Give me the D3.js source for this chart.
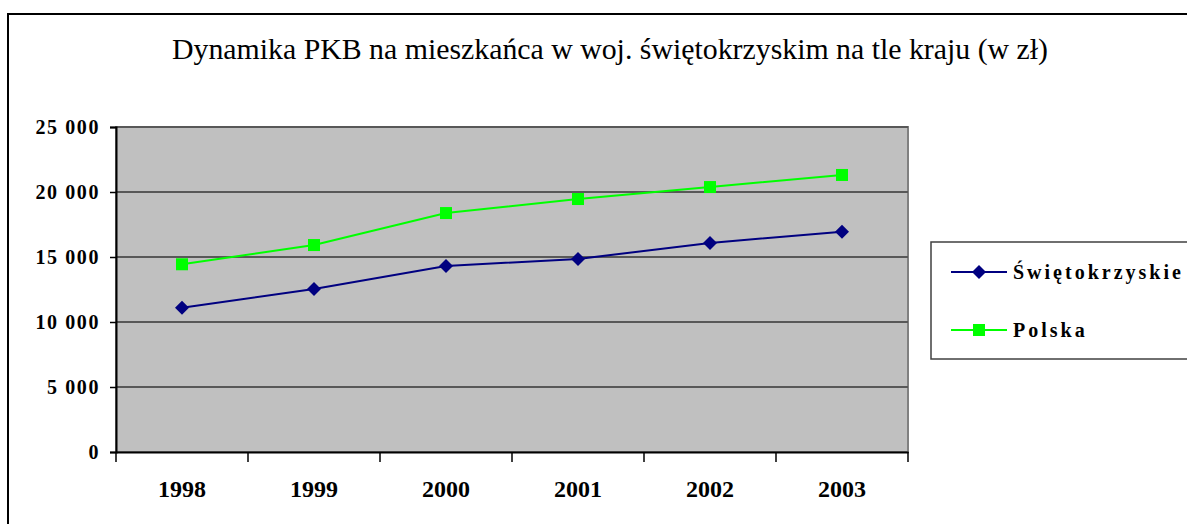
<!DOCTYPE html>
<html>
<head>
<meta charset="utf-8">
<script src="https://cdn.jsdelivr.net/npm/d3@7"></script>
<style>
  html, body { margin: 0; padding: 0; background: #fff; overflow: hidden; }
  svg { display: block; }
  text { font-family: "Liberation Serif", "Times New Roman", Times, serif; }
</style>
</head>
<body>
<div id="chart"></div>
<script>
const years = ['1998', '1999', '2000', '2001', '2002', '2003'];
const swietokrzyskie = [11100, 12540, 14310, 14850, 16080, 16950];
const polska = [14440, 15920, 18380, 19460, 20380, 21310];
const yTicks = [0, 5000, 10000, 15000, 20000, 25000];
const title = 'Dynamika PKB na mieszkańca w woj. świętokrzyskim na tle kraju (w zł)';

const series = [
  { name: 'Świętokrzyskie', values: swietokrzyskie, color: '#000080', marker: 'diamond' },
  { name: 'Polska', values: polska, color: '#00ff00', marker: 'square' },
];

const width = 1187;
const height = 524;
const plot = { left: 116, top: 127, right: 908, bottom: 452 };
const serif = '"Liberation Serif", "Times New Roman", Times, serif';

const pl = d3.formatLocale({ decimal: ',', thousands: ' ', grouping: [3], currency: ['', ''] });
const fmt = pl.format(',d');

const svg = d3.select('#chart')
  .append('svg')
  .attr('width', width)
  .attr('height', height);

// chart frame
svg.append('rect')
  .attr('x', 8).attr('y', 14)
  .attr('width', 1300).attr('height', 700)
  .attr('fill', '#fff')
  .attr('stroke', '#000')
  .attr('stroke-width', 2);

svg.append('text')
  .attr('x', 610).attr('y', 59)
  .attr('text-anchor', 'middle')
  .attr('font-family', serif)
  .attr('font-size', '30px')
  .attr('textLength', 876)
  .attr('lengthAdjust', 'spacingAndGlyphs')
  .text(title);

const xScale = d3.scaleBand().domain(years).range([plot.left, plot.right]).padding(0);
const yScale = d3.scaleLinear().domain([0, 25000]).range([plot.bottom, plot.top]);

// plot background
svg.append('rect')
  .attr('x', plot.left).attr('y', plot.top)
  .attr('width', plot.right - plot.left)
  .attr('height', plot.bottom - plot.top)
  .attr('fill', '#c0c0c0')
  .attr('stroke', '#808080')
  .attr('stroke-width', 2);

// gridlines
svg.append('g')
  .selectAll('line')
  .data(yTicks.filter((d) => d > 0))
  .enter()
  .append('line')
  .attr('x1', plot.left).attr('x2', plot.right)
  .attr('y1', (d) => yScale(d)).attr('y2', (d) => yScale(d))
  .attr('stroke', '#585858')
  .attr('stroke-width', 2);

// y axis
const yAxis = d3.axisLeft(yScale).tickValues(yTicks).tickFormat(fmt).tickSize(6).tickPadding(0);
const gy = svg.append('g')
  .attr('transform', `translate(${plot.left},0)`)
  .call(yAxis);
gy.select('.domain').attr('stroke', '#000').attr('stroke-width', 2);
gy.selectAll('.tick line').attr('stroke', '#000').attr('stroke-width', 1.5);
gy.selectAll('.tick text')
  .attr('x', -16)
  .attr('dy', '0.33em')
  .attr('fill', '#000')
  .attr('font-family', serif)
  .attr('font-size', '20px')
  .attr('font-weight', 'bold')
  .attr('letter-spacing', '1.6px');

// x axis
const xAxis = d3.axisBottom(xScale).tickSize(0).tickPadding(0);
const gx = svg.append('g')
  .attr('transform', `translate(0,${plot.bottom})`)
  .call(xAxis);
gx.select('.domain').attr('stroke', '#000').attr('stroke-width', 2);
gx.selectAll('.tick text')
  .attr('y', 45)
  .attr('dy', 0)
  .attr('fill', '#000')
  .attr('font-family', serif)
  .attr('font-size', '24px')
  .attr('font-weight', 'bold');
gx.selectAll('.boundary')
  .data(years.map((y) => xScale(y)).concat([xScale.range()[1]]))
  .enter()
  .append('line')
  .attr('class', 'boundary')
  .attr('x1', (d) => d).attr('x2', (d) => d)
  .attr('y1', 0).attr('y2', 10)
  .attr('stroke', '#000')
  .attr('stroke-width', 1.5);

const cx = (i) => xScale(years[i]) + xScale.bandwidth() / 2;
const line = d3.line()
  .x((d, i) => cx(i))
  .y((d) => yScale(d));

const drawMarker = (g, kind, color, x, y) => {
  if (kind === 'diamond') {
    g.append('path')
      .attr('d', `M${x},${y - 7}L${x + 7},${y}L${x},${y + 7}L${x - 7},${y}Z`)
      .attr('fill', color);
  } else {
    g.append('rect')
      .attr('x', x - 6).attr('y', y - 6)
      .attr('width', 12).attr('height', 12)
      .attr('fill', color);
  }
};

series.forEach((s) => {
  const g = svg.append('g');
  g.append('path')
    .attr('d', line(s.values))
    .attr('fill', 'none')
    .attr('stroke', s.color)
    .attr('stroke-width', 2);
  s.values.forEach((v, i) => drawMarker(g, s.marker, s.color, cx(i), yScale(v)));
});

// legend
const legend = svg.append('g');
legend.append('rect')
  .attr('x', 931).attr('y', 242)
  .attr('width', 300).attr('height', 117)
  .attr('fill', '#fff')
  .attr('stroke', '#404040')
  .attr('stroke-width', 1.5);
series.forEach((s, i) => {
  const y = 272 + i * 58;
  legend.append('line')
    .attr('x1', 951).attr('x2', 1007)
    .attr('y1', y).attr('y2', y)
    .attr('stroke', s.color)
    .attr('stroke-width', 2);
  drawMarker(legend, s.marker, s.color, 979, y);
  legend.append('text')
    .attr('x', 1013).attr('y', y)
    .attr('dy', '0.35em')
    .attr('font-family', serif)
    .attr('font-size', '20px')
    .attr('font-weight', 'bold')
    .attr('letter-spacing', '3px')
    .text(s.name);
});
</script>
</body>
</html>
